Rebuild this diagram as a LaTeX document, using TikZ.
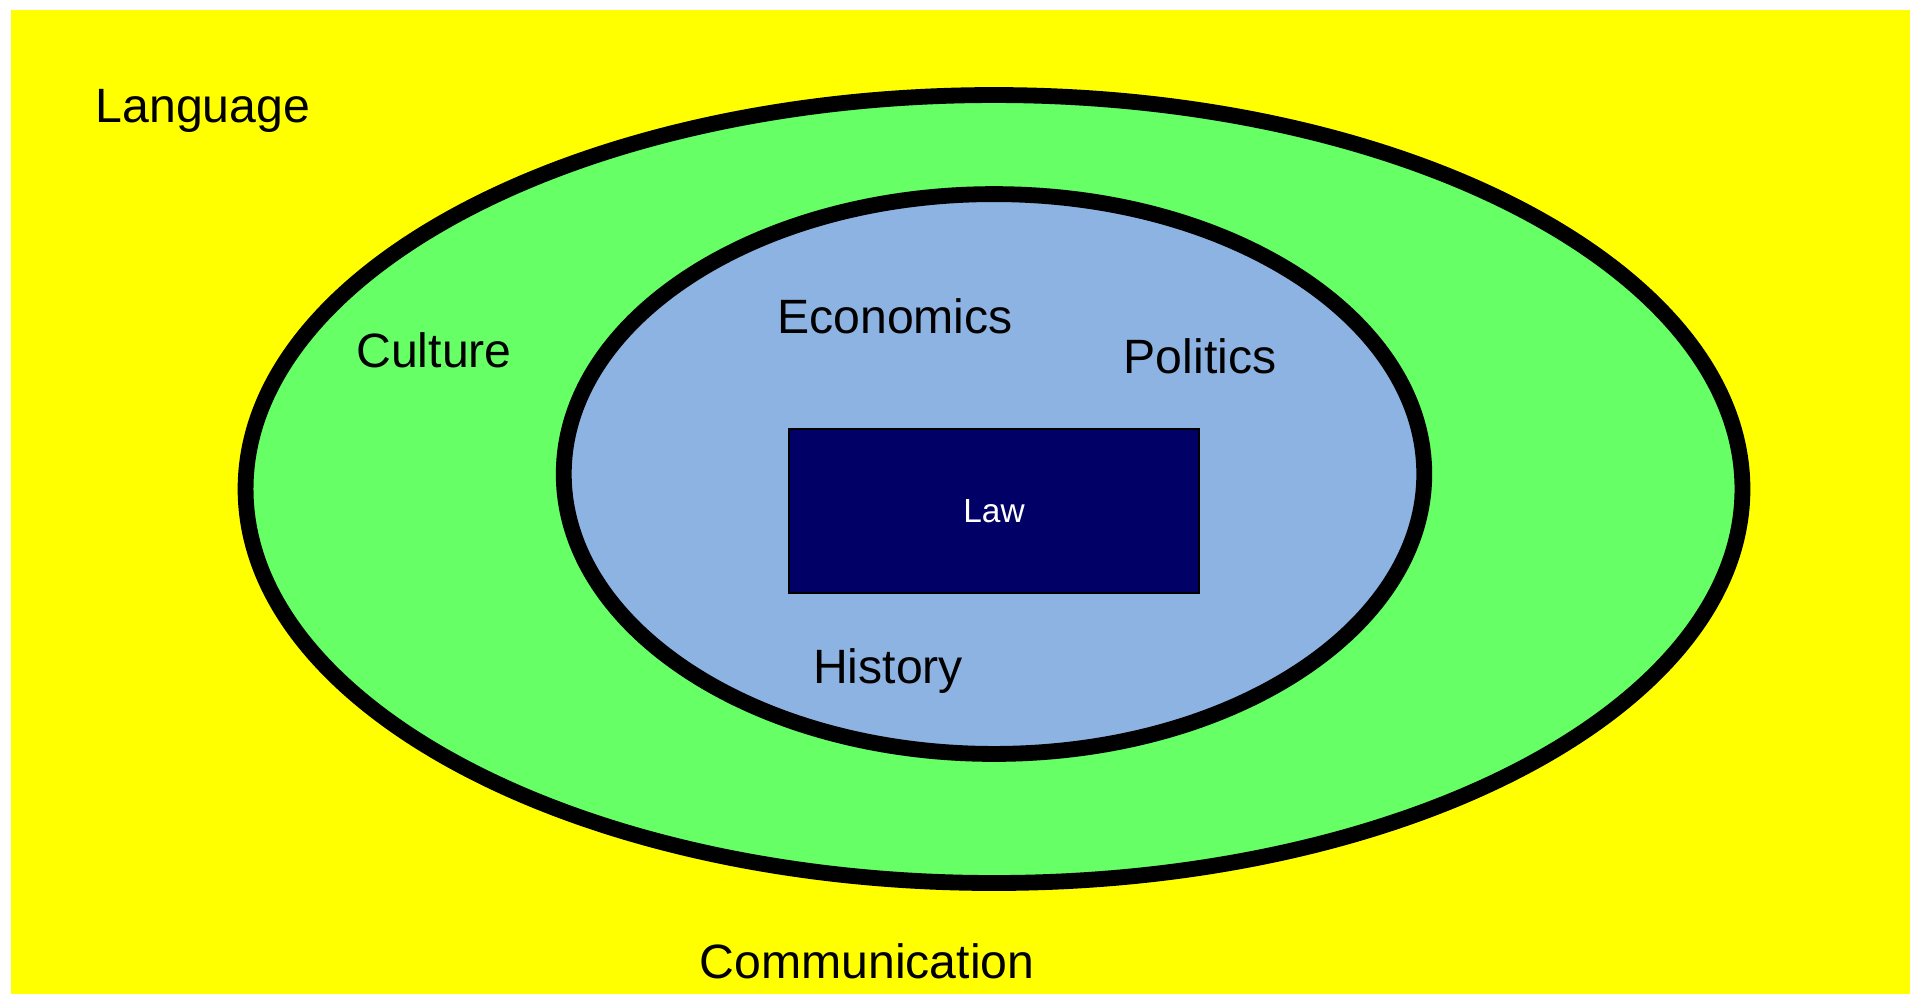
\documentclass[tikz,border=0pt]{standalone}
\usepackage{fontspec}
\setmainfont{Liberation Sans}
\usepackage{tikz}
\usetikzlibrary{positioning,backgrounds,calc,shapes.geometric}
\definecolor{langyellow}{HTML}{FFFF00}
\definecolor{culturegreen}{HTML}{66FF66}
\definecolor{ecoblue}{HTML}{8DB3E2}
\definecolor{lawnavy}{HTML}{000066}

\begin{document}
\begin{tikzpicture}[x=0.01cm, y=-0.01cm, semithick, transform shape,
       ring/.style={draw, ellipse, line width=4.5pt, inner sep=0pt},
       lbl/.style={font=\fontsize{13.7}{16}\selectfont, inner sep=0pt}]
      \useasboundingbox (0,0) rectangle (1910,993);
      \node[fill=langyellow, inner sep=0pt, minimum width=19cm, minimum height=9.84cm, anchor=north west] (lang) at (10, 9) {};
      \node[ring, fill=culturegreen, minimum width=14.96cm, minimum height=7.875cm] (cult) at (994, 489) {};
      \node[ring, fill=ecoblue, minimum width=8.60cm, minimum height=5.595cm] (eco) at (994, 474) {};
      \node[draw, thin, fill=lawnavy, minimum width=4.10cm, minimum height=1.64cm, inner sep=0pt] (law) at (994, 511)
            {\color{white}\fontsize{9.5}{11}\selectfont Law};
      \node[lbl] (tlang) at (203, 111) {Language};
      \node[lbl] (tcult) at (434, 350) {Culture};
      \node[lbl] (teco) at (895, 316) {Economics};
      \node[lbl] (tpol) at (1200, 356) {Politics};
      \node[lbl] (thist) at (888, 671) {History};
      \node[lbl] (tcomm) at (867, 961) {Communication};
\end{tikzpicture}
\end{document}
